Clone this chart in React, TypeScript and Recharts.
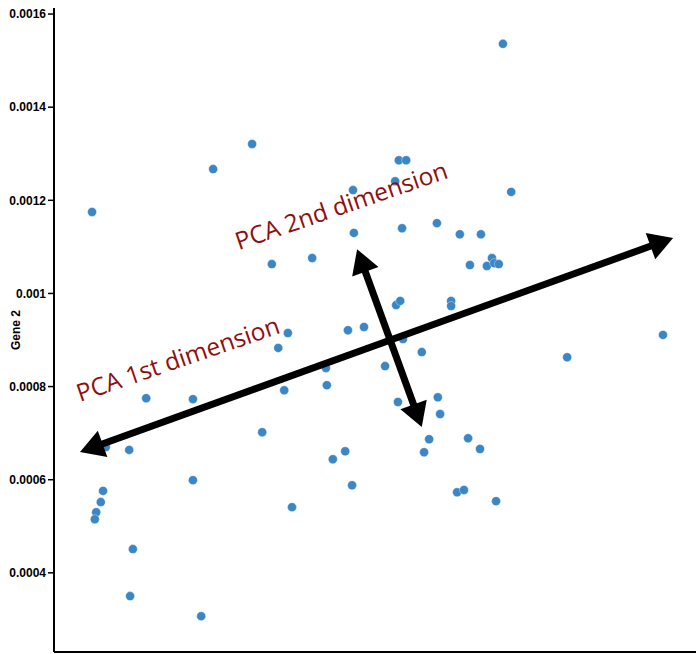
import {
  ScatterChart,
  Scatter,
  XAxis,
  YAxis,
  ReferenceLine,
  ReferenceDot,
} from "recharts";

// gene expression values
const gene1 = [
  0.000283, 0.000547, 0.000632, 0.001179, 0.001197, 0.000952, 0.000968, 0.000944,
  0.000852, 0.000854, 0.000959, 0.001035, 0.001085, 0.001131, 0.001107, 0.001155,
  0.001144, 0.00116, 0.00117, 0.000946, 0.000955, 0.001066, 0.001066, 0.000841,
  0.000876, 0.001528, 0.000961, 0.001002, 0.000922, 0.001319, 0.00095, 0.001037,
  0.001042, 0.001018, 0.001007, 0.001103, 0.001129, 0.000835, 0.000808, 0.00085,
  0.001079, 0.001094, 0.001164, 0.000675, 0.000763, 0.00071, 0.000689, 0.000793,
  0.000795, 0.000702, 0.000401, 0.000503, 0.000654, 0.000364, 0.000313, 0.000503,
  0.000719, 0.000307, 0.000302, 0.000292, 0.000289, 0.000372, 0.000366, 0.000521,
];
const gene2 = [
  0.001175, 0.001267, 0.001321, 0.001536, 0.001218, 0.001286, 0.001286, 0.001241,
  0.001222, 0.00113, 0.00114, 0.001151, 0.001127, 0.001127, 0.001061, 0.001076,
  0.001059, 0.001065, 0.001063, 0.000975, 0.000984, 0.000984, 0.000973, 0.000921,
  0.000928, 0.000911, 0.000902, 0.000874, 0.000844, 0.000863, 0.000767, 0.000777,
  0.000741, 0.000687, 0.000659, 0.000689, 0.000666, 0.000661, 0.000644, 0.000588,
  0.000573, 0.000578, 0.000554, 0.001063, 0.001076, 0.000915, 0.000883, 0.00084,
  0.000803, 0.000792, 0.000775, 0.000773, 0.000702, 0.000664, 0.00067, 0.000599,
  0.000541, 0.000576, 0.000552, 0.00053, 0.000515, 0.000451, 0.00035, 0.000307,
];
const yTicks = [0.0004, 0.0006, 0.0008, 0.001, 0.0012, 0.0014, 0.0016];

// annotation arrows (double headed) and their labels, in data units
const pc1 = [
  { x: 0.0002567, y: 0.0006593 },
  { x: 0.00155, y: 0.001119 },
];
const pc2 = [
  { x: 0.000861, y: 0.001095 },
  { x: 0.001002, y: 0.000713 },
];
const labels = [
  { x: 0.0002567, y: 0.0007667, text: "PCA 1st dimension" },
  { x: 0.000603, y: 0.001093, text: "PCA 2nd dimension" },
];

const data = gene1.map((g, i) => ({ gene1: g, gene2: gene2[i] }));

const DOT = "#3b86c4";
const RED = "#8f0e0e";

const head = (tx: number, ty: number, ux: number, uy: number) => {
  const L = 24;
  const W = 14;
  const bx = tx - ux * L;
  const by = ty - uy * L;
  return `${tx},${ty} ${bx - uy * W},${by + ux * W} ${bx + uy * W},${by - ux * W}`;
};

const DoubleArrow = (props: any) => {
  const { x1, y1, x2, y2 } = props;
  const dx = x2 - x1;
  const dy = y2 - y1;
  const len = Math.hypot(dx, dy);
  const ux = dx / len;
  const uy = dy / len;
  return (
    <g>
      <line
        x1={x1 + ux * 20}
        y1={y1 + uy * 20}
        x2={x2 - ux * 20}
        y2={y2 - uy * 20}
        stroke="#000"
        strokeWidth={7}
      />
      <polygon points={head(x2, y2, ux, uy)} fill="#000" />
      <polygon points={head(x1, y1, -ux, -uy)} fill="#000" />
    </g>
  );
};

const labelShape = (text: string) => (props: any) => (
  <text
    x={props.cx}
    y={props.cy}
    transform={`rotate(-19, ${props.cx}, ${props.cy})`}
    fill={RED}
    fontSize={24.5}
    fontFamily="'Open Sans', sans-serif"
  >
    {text}
  </text>
);

const App = () => {
  return (
    <div style={{ position: "absolute", left: 0, top: 0, background: "#fff" }}>
      <ScatterChart
        width={696}
        height={654}
        margin={{ top: 8, right: 0, bottom: 0, left: 0 }}
      >
        <XAxis
          type="number"
          dataKey="gene1"
          domain={[0.0002, 0.0016]}
          tick={false}
          tickLine={false}
          height={2}
          axisLine={{ stroke: "#000", strokeWidth: 2 }}
        />
        <YAxis
          type="number"
          dataKey="gene2"
          domain={[0.00023, 0.001613]}
          ticks={yTicks}
          tickFormatter={(v) => String(v)}
          width={54}
          tickSize={6}
          axisLine={{ stroke: "#000", strokeWidth: 2 }}
          tickLine={{ stroke: "#000", strokeWidth: 1.5 }}
          tick={{
            fill: "#000",
            fontSize: 12,
            fontWeight: "bold",
            fontFamily: "'Liberation Sans', Arial, sans-serif",
          }}
          label={{
            value: "Gene 2",
            angle: -90,
            position: "insideLeft",
            offset: 16,
            style: {
              textAnchor: "middle",
              fontSize: 12,
              fontWeight: "bold",
              fill: "#000",
              fontFamily: "'Liberation Sans', Arial, sans-serif",
            },
          }}
        />
        <Scatter
          data={data}
          isAnimationActive={false}
          shape={(p: any) => (
            <circle
              cx={p.cx}
              cy={p.cy}
              r={4.5}
              fill={DOT}
              stroke="#fff"
              strokeOpacity={0.6}
              strokeWidth={0.6}
            />
          )}
        />
        <ReferenceLine segment={pc1} shape={DoubleArrow} zIndex={1000} />
        <ReferenceLine segment={pc2} shape={DoubleArrow} zIndex={1000} />
        {labels.map((l) => (
          <ReferenceDot
            key={l.text}
            x={l.x}
            y={l.y}
            zIndex={1000}
            shape={labelShape(l.text)}
          />
        ))}
      </ScatterChart>
    </div>
  );
};

export default App;
